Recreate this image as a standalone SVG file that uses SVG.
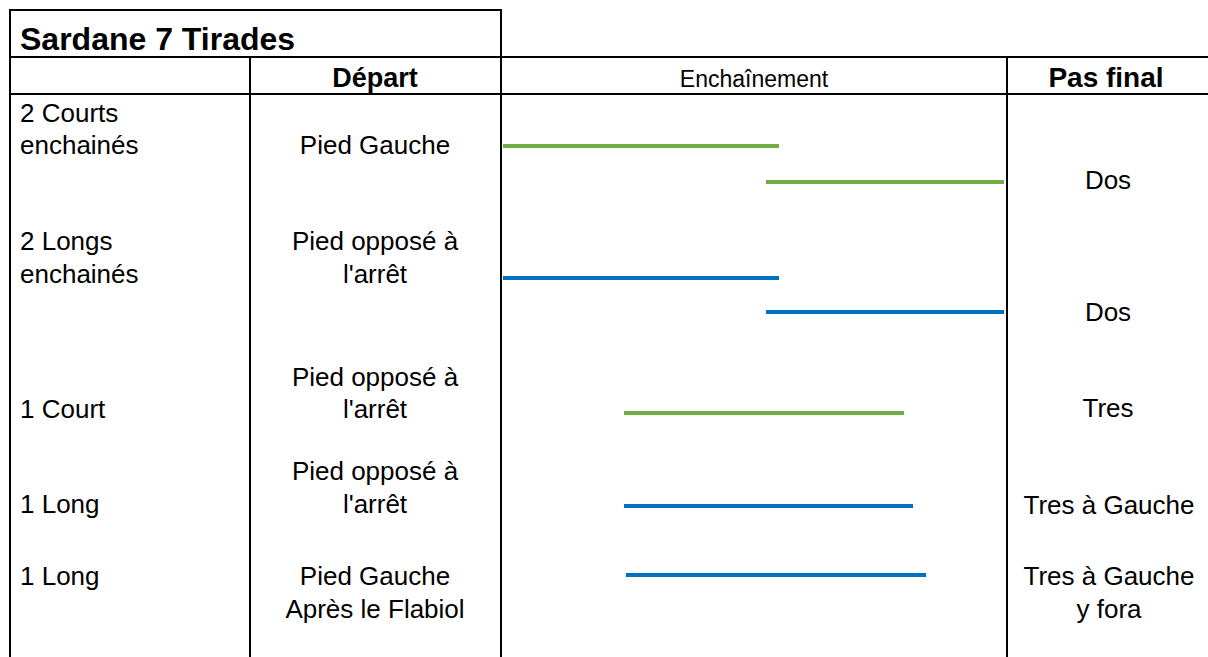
<svg xmlns="http://www.w3.org/2000/svg" width="1208" height="657" viewBox="0 0 1208 657">
<style>
text{font-family:"Liberation Sans",Arial,sans-serif;fill:#000;font-size:26px}
.b{font-weight:bold}
.c{text-anchor:middle}
.grid line{stroke:#000;stroke-width:2}
.g{stroke:#70AD47;stroke-width:4}
.bl{stroke:#0070C0;stroke-width:4}
</style>
<rect width="1208" height="657" fill="#fff"/>
<g id="grid" class="grid">
<line x1="10" y1="10" x2="502" y2="10"/>
<line x1="10" y1="9" x2="10" y2="657"/>
<line x1="501" y1="9" x2="501" y2="657"/>
<line x1="250" y1="57" x2="250" y2="657"/>
<line x1="1007" y1="57" x2="1007" y2="657"/>
<line x1="9" y1="57" x2="1208" y2="57"/>
<line x1="9" y1="94" x2="1208" y2="94"/>
</g>
<g id="title"><text class="b" x="20" y="50" style="font-size:32px">Sardane 7 Tirades</text></g>
<g id="headers">
<text class="b c" x="375" y="87" style="font-size:27px">Départ</text>
<text class="c" x="754" y="87" style="font-size:23px">Enchaînement</text>
<text class="b c" x="1106" y="87" style="font-size:28px">Pas final</text>
</g>
<g id="row1">
<text x="20" y="122">2 Courts</text>
<text x="20" y="154">enchainés</text>
<text class="c" x="375" y="154">Pied Gauche</text>
<text class="c" x="1108" y="189">Dos</text>
</g>
<g id="row2">
<text x="20" y="250">2 Longs</text>
<text x="20" y="283">enchainés</text>
<text class="c" x="375" y="250">Pied opposé à</text>
<text class="c" x="375" y="283">l'arrêt</text>
<text class="c" x="1108" y="321">Dos</text>
</g>
<g id="row3">
<text x="20" y="418">1 Court</text>
<text class="c" x="375" y="386">Pied opposé à</text>
<text class="c" x="375" y="418">l'arrêt</text>
<text class="c" x="1108" y="417">Tres</text>
</g>
<g id="row4">
<text x="20" y="513">1 Long</text>
<text class="c" x="375" y="480">Pied opposé à</text>
<text class="c" x="375" y="513">l'arrêt</text>
<text class="c" x="1109" y="514">Tres à Gauche</text>
</g>
<g id="row5">
<text x="20" y="585">1 Long</text>
<text class="c" x="375" y="585">Pied Gauche</text>
<text class="c" x="375" y="618">Après le Flabiol</text>
<text class="c" x="1109" y="585">Tres à Gauche</text>
<text class="c" x="1109" y="618">y fora</text>
</g>
<g id="connectors">
<line class="g" x1="503" y1="146" x2="779" y2="146"/>
<line class="g" x1="766" y1="182" x2="1004" y2="182"/>
<line class="bl" x1="503" y1="278" x2="779" y2="278"/>
<line class="bl" x1="766" y1="312" x2="1004" y2="312"/>
<line class="g" x1="624" y1="413" x2="904" y2="413"/>
<line class="bl" x1="624" y1="506" x2="913" y2="506"/>
<line class="bl" x1="626" y1="575" x2="926" y2="575"/>
</g>
</svg>
